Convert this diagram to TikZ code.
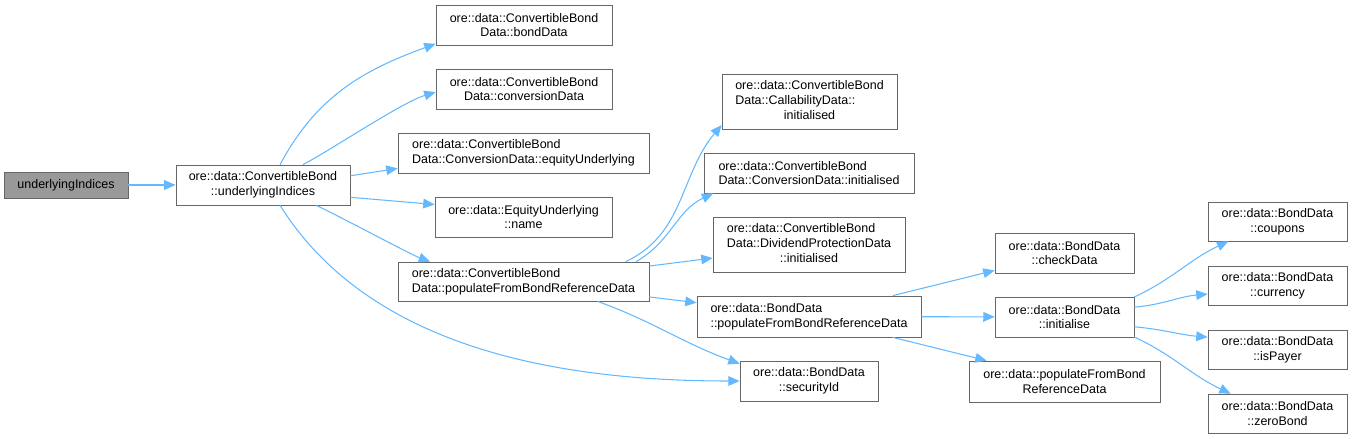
\documentclass[tikz,border=0pt]{standalone}
\usepackage{fontspec}
\setmainfont{Liberation Sans}
\usetikzlibrary{arrows.meta}
\definecolor{edgeblue}{HTML}{63B8FF}
\definecolor{boxgray}{HTML}{666666}
\definecolor{rootgray}{HTML}{999999}

\begin{document}
\begin{tikzpicture}[x=0.02cm, y=-0.02cm,
	fn/.style={draw=boxgray, fill=white, inner sep=2pt, font=\fontsize{7.1}{8.4}\selectfont, minimum height=0.8cm},
	call/.style={draw=edgeblue, line width=0.6pt, -{Triangle[length=6.5pt, width=5.5pt]}}]
	\useasboundingbox (0,0) rectangle (1352,439);

	%caller and the function itself
	\node[fn, fill=rootgray, minimum width=2.48cm, minimum height=0.52cm] (root) at (66,185) {underlyingIndices};
	\node[fn, align=center, minimum width=3.48cm] (ub) at (263,185) {ore::data::ConvertibleBond\\::underlyingIndices};

	%first level
	\node[fn, align=center, minimum width=3.52cm] (bonddata) at (524,25) {ore::data::ConvertibleBond\\Data::bondData};
	\node[fn, align=center, minimum width=3.52cm] (convdata) at (524,89) {ore::data::ConvertibleBond\\Data::conversionData};
	\node[fn, align=left, minimum width=5.02cm] (equnder) at (523.5,153) {ore::data::ConvertibleBond\\Data::ConversionData::equityUnderlying};
	\node[fn, align=center, minimum width=3.54cm] (eqname) at (523.5,217) {ore::data::EquityUnderlying\\::name};
	\node[fn, align=left, minimum width=5.02cm, minimum height=0.78cm] (cpop) at (523.5,281.5) {ore::data::ConvertibleBond\\Data::populateFromBondReferenceData};

	%second level
	\node[fn, minimum width=3.5cm, minimum height=1.1cm] (callinit) at (809.5,101.5) {\begin{tabular}{@{}l@{}}ore::data::ConvertibleBond\\Data::CallabilityData::\\\multicolumn{1}{@{}c@{}}{initialised}\end{tabular}};
	\node[fn, align=left, minimum width=4.2cm] (convinit) at (809,173) {ore::data::ConvertibleBond\\Data::ConversionData::initialised};
	\node[fn, minimum width=3.84cm, minimum height=1.1cm] (divinit) at (809,244.5) {\begin{tabular}{@{}l@{}}ore::data::ConvertibleBond\\Data::DividendProtectionData\\\multicolumn{1}{@{}c@{}}{::initialised}\end{tabular}};
	\node[fn, align=left, minimum width=4.48cm, minimum height=0.82cm] (bpop) at (809,316.5) {ore::data::BondData\\::populateFromBondReferenceData};
	\node[fn, align=center, minimum width=2.76cm] (secid) at (809,381) {ore::data::BondData\\::securityId};

	%third level
	\node[fn, align=center, minimum width=2.78cm] (check) at (1064.5,253) {ore::data::BondData\\::checkData};
	\node[fn, align=center, minimum width=2.78cm] (init) at (1064.5,317) {ore::data::BondData\\::initialise};
	\node[fn, align=center, minimum width=3.82cm, minimum height=0.82cm] (popfree) at (1064.5,381.5) {ore::data::populateFromBond\\ReferenceData};

	%fourth level
	\node[fn, align=center, minimum width=2.78cm, minimum height=0.78cm] (coupons) at (1277.5,221.5) {ore::data::BondData\\::coupons};
	\node[fn, align=center, minimum width=2.78cm, minimum height=0.78cm] (currency) at (1277.5,285.5) {ore::data::BondData\\::currency};
	\node[fn, align=center, minimum width=2.78cm, minimum height=0.78cm] (ispayer) at (1277.5,349.5) {ore::data::BondData\\::isPayer};
	\node[fn, align=center, minimum width=2.78cm, minimum height=0.78cm] (zerobond) at (1277.5,413.5) {ore::data::BondData\\::zeroBond};

	%calls
	\draw[call] (root) -- (ub);
	\draw[call] (ub.50) to[out=62, in=200] (bonddata.192);
	\draw[call] (ub.27) to[out=28, in=197, looseness=0.6] (convdata.182);
	\draw[call] (ub.6.5) -- (equnder.187);
	\draw[call] (ub.-8) -- (eqname.172);
	\draw[call] (ub.-21) to[out=-24, in=160, looseness=0.4] (cpop.168);
	\draw[call] (ub.-50) to[out=-58, in=180, looseness=0.9] (secid.180);

	\draw[call] (cpop.11.2) to[out=25, in=230] (callinit.195);
	\draw[call] (cpop.10.2) to[out=30, in=205] (convinit.192.4);
	\draw[call] (cpop.7.5) -- (divinit.188);
	\draw[call] (cpop.-7) -- (bpop.173.6);
	\draw[call] (cpop.-15.5) to[out=-20, in=160] (secid.166);

	\draw[call] (bpop.14.2) -- (check.194.5);
	\draw[call] (bpop) -- (init);
	\draw[call] (bpop.-14.2) -- (popfree.165.5);

	\draw[call] (init.16.3) to[out=25, in=205] (coupons.202.3);
	\draw[call] (init.8.2) to[out=5, in=185] (currency.187.8);
	\draw[call] (init.-8.2) to[out=-5, in=175] (ispayer.170.6);
	\draw[call] (init.-16.3) to[out=-25, in=155] (zerobond.157.7);
\end{tikzpicture}
\end{document}
